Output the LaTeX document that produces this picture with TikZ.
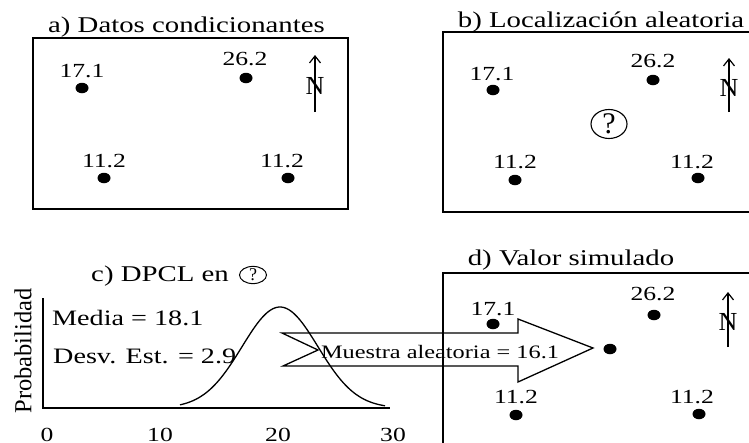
\documentclass[tikz,border=0pt]{standalone}
\usepackage{fontspec}
\setmainfont{Liberation Serif}[FakeStretch=1.28]
\newfontfamily\plainserif{Liberation Serif}
\usetikzlibrary{shapes.geometric,arrows.meta,positioning}

\tikzset{
  title/.style={font=\fontsize{22.5}{27}\selectfont, anchor=base, inner sep=0pt},
  val/.style={font=\fontsize{20}{24}\selectfont, anchor=base, inner sep=0pt},
  dot/.style={ellipse, fill, inner sep=0pt, minimum width=13pt, minimum height=10.5pt},
  frame/.style={line width=1.8pt},
  north/.style={-{Straight Barb[length=7pt,width=11pt]}, line width=1.2pt},
  nlet/.style={font=\plainserif\fontsize{26}{28}\selectfont, inner sep=0pt},
  qmark/.style={draw, ellipse, line width=1.1pt, inner sep=0pt},
}

\begin{document}
\begin{tikzpicture}[x=1pt,y=-1pt]

\clip (0,0) rectangle (749,442);

% a) conditioning data
\node[title] (ta) at (186.5,32) {a) Datos condicionantes};
\draw[frame] (33,38) rectangle (348,209);

\node[val] (la1) at (82,77) {17.1};
\node[val] (la2) at (245,65) {26.2};
\node[val] (la3) at (104,167) {11.2};
\node[val] (la4) at (282,167) {11.2};
\node[dot] (da1) at (82,88) {};
\node[dot] (da2) at (246,78) {};
\node[dot] (da3) at (104,178) {};
\node[dot] (da4) at (288,178) {};

\coordinate (sa) at (315,112);
\coordinate (ea) at (315,55);
\draw[north] (sa) -- (ea);
\node[nlet] (na) at (315,86) {N};

% b) random location
\node[title] (tb) at (601,27) {b) Localización aleatoria};
\draw[frame] (760,32) -- (443,32) -- (443,212) -- (760,212);

\node[val] (lb1) at (492,80) {17.1};
\node[val] (lb2) at (653,67) {26.2};
\node[val] (lb3) at (515,168) {11.2};
\node[val] (lb4) at (692,168) {11.2};
\node[dot] (db1) at (493,90) {};
\node[dot] (db2) at (653,80) {};
\node[dot] (db3) at (515,180) {};
\node[dot] (db4) at (698,178) {};
\node[qmark, minimum width=36pt, minimum height=29pt,
      font=\plainserif\fontsize{30}{32}\selectfont] (qb) at (609,124) {?};

\coordinate (sb) at (729,112);
\coordinate (eb) at (729,58);
\draw[north] (sb) -- (eb);
\node[nlet] (nb) at (729,88) {N};

% c) local conditional distribution
\node[title] (tc) at (160,281) {c) DPCL en};
\node[qmark, line width=1pt, minimum width=27pt, minimum height=17pt,
      font=\plainserif\fontsize{18}{20}\selectfont] (qc) at (253,275) {?};

\coordinate (orig) at (43,408);
\coordinate (ytop) at (43,298);
\coordinate (xend) at (390,408);
\draw[line width=1.3pt] (ytop) -- (orig) -- (xend);

\node[font=\plainserif\fontsize{24.5}{28}\selectfont, rotate=90, inner sep=0pt] (prob) at (23,351) {Probabilidad};
\node[font=\fontsize{22}{26}\selectfont, anchor=base west, inner sep=0pt] (media) at (52,325) {Media = 18.1};
\node[font=\fontsize{22}{26}\selectfont, anchor=base west, inner sep=0pt] (desv) at (53,363) {Desv. Est. = 2.9};

\node[val] (x0) at (47,441) {0};
\node[val] (x10) at (160,441) {10};
\node[val] (x20) at (278,441) {20};
\node[val] (x30) at (393,441) {30};

\draw[line width=1.3pt, domain=180:385, samples=80, smooth]
  plot (\x, {408-101*exp(-((\x-280)^2)/2888)});

% d) simulated value
\node[title] (td) at (571,265) {d) Valor simulado};
\draw[frame] (760,273) -- (443,273) -- (443,450);

\node[val] (ld1) at (493,315) {17.1};
\node[val] (ld2) at (653,300) {26.2};
\node[val] (ld3) at (516,403) {11.2};
\node[val] (ld4) at (692,403) {11.2};
\node[dot] (dd1) at (493,324) {};
\node[dot] (dd2) at (654,315) {};
\node[dot] (dd3) at (516,415) {};
\node[dot] (dd4) at (699,414) {};
\node[dot] (dsim) at (610,349) {};

\coordinate (sd) at (728,347);
\coordinate (ed) at (728,292);
\draw[north] (sd) -- (ed);
\node[nlet] (nd) at (728,322) {N};

% sampling arrow
\draw[line width=1.3pt, line join=miter]
  (282,333) -- (518,333) -- (518,319) -- (593,348) -- (518,382)
  -- (518,366) -- (283,366) -- (318,350) -- cycle;
\node[font=\fontsize{19}{23}\selectfont, anchor=base, inner sep=0pt] (sample) at (440,358) {Muestra aleatoria = 16.1};

\end{tikzpicture}
\end{document}
